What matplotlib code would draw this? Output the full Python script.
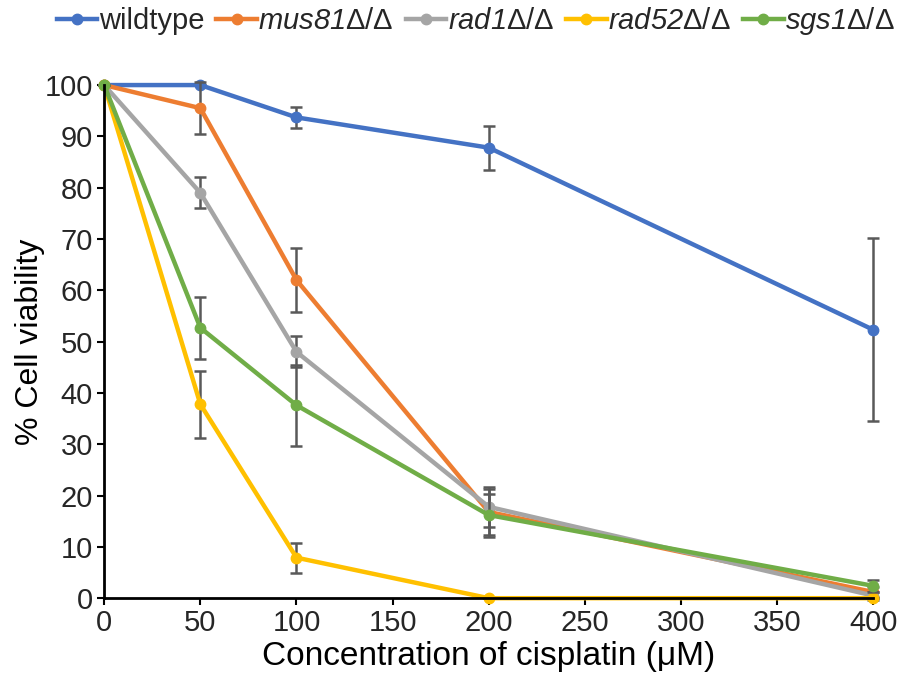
import matplotlib.pyplot as plt

plt.rcParams['font.family'] = ['Liberation Sans', 'DejaVu Sans']
plt.rcParams['mathtext.fontset'] = 'custom'
plt.rcParams['mathtext.sf'] = 'Liberation Sans:italic'
plt.rcParams['mathtext.rm'] = 'Liberation Sans'
plt.rcParams['text.color'] = '#262626'
plt.rcParams['xtick.color'] = '#000000'
plt.rcParams['ytick.color'] = '#000000'
plt.rcParams['xtick.labelcolor'] = '#262626'
plt.rcParams['ytick.labelcolor'] = '#262626'

# Data
conc = [0, 50, 100, 200, 400]
strains = ['wildtype', r'$\mathsf{mus81}$Δ/Δ', r'$\mathsf{rad1}$Δ/Δ',
           r'$\mathsf{rad52}$Δ/Δ', r'$\mathsf{sgs1}$Δ/Δ']
colors = ['#4472C4', '#ED7D31', '#A5A5A5', '#FFC000', '#70AD47']
viability = [
    [100, 100, 93.7, 87.8, 52.3],
    [100, 95.5, 62.0, 16.8, 1.2],
    [100, 79.0, 48.0, 17.8, 0.5],
    [100, 37.8, 7.9, 0, 0],
    [100, 52.7, 37.6, 16.2, 2.4],
]
errors = [
    [0, 0, 2.1, 4.3, 17.8],
    [0, 5.0, 6.2, 4.5, 1.0],
    [0, 3.0, 3.0, 3.9, 0.8],
    [0, 6.5, 2.9, 0, 0],
    [0, 6.0, 7.9, 4.2, 1.1],
]

fig = plt.figure(figsize=(9.06, 6.86), dpi=100)
ax = fig.add_axes([0.115, 0.128, 0.849, 0.748])

for i, (name, c, v, e) in enumerate(zip(strains, colors, viability, errors)):
    z = 2 + i * 0.1
    eb = ax.errorbar(conc, v, yerr=e, fmt='none', ecolor='#595959', elinewidth=1.8,
                     capsize=4, capthick=1.8, zorder=z)
    for art in eb.lines[1] + eb.lines[2]:
        art.set_clip_on(False)
    ax.plot(conc, v, '-o', color=c, lw=3.2, ms=7.5, label=name, zorder=z + 0.05,
            clip_on=False)

ax.set_xlim(0, 400)
ax.set_ylim(0, 100)
ax.set_xticks(range(0, 401, 50))
ax.set_yticks(range(0, 101, 10))
ax.tick_params(labelsize=21, width=1.5, length=5, direction='out', pad=3)
for s in ['top', 'right']:
    ax.spines[s].set_visible(False)
for s in ['left', 'bottom']:
    ax.spines[s].set_linewidth(2)
ax.set_xlabel('Concentration of cisplatin (μM)', fontsize=24, labelpad=3)
ax.set_ylabel('% Cell viability', fontsize=23, labelpad=0)

fig.legend(loc='upper center', bbox_to_anchor=(0.525, 1.01), ncol=5, frameon=False,
           fontsize=21, handlelength=1.4, handletextpad=0.05, columnspacing=0.4,
           borderaxespad=0.0)

fig.savefig('out.png', dpi=100)
